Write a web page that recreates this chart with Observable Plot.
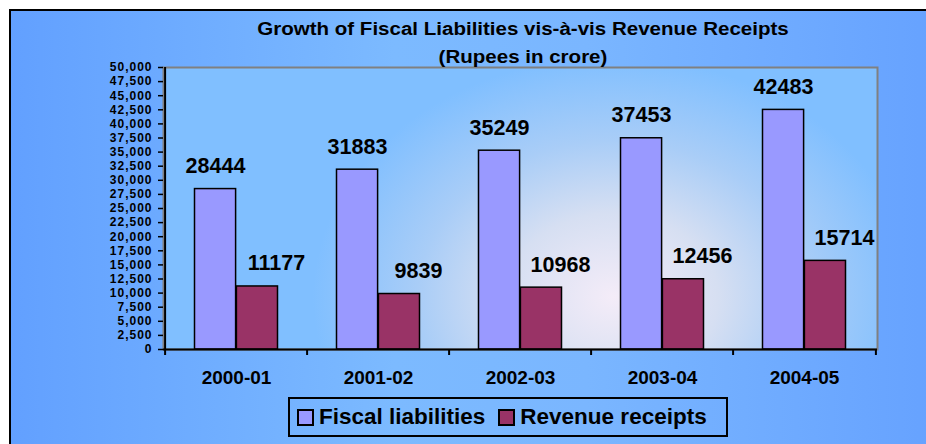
<!DOCTYPE html>
<html>
<head>
<meta charset="utf-8">
<script src="https://cdn.jsdelivr.net/npm/d3@7"></script>
<script src="https://cdn.jsdelivr.net/npm/@observablehq/plot@0.6"></script>
<style>
  html, body { margin: 0; padding: 0; background: #ffffff; }
  #wrap { position: relative; width: 926px; height: 444px; overflow: hidden; background: #ffffff;
          font-family: "Liberation Sans", Arial, sans-serif; }
  #bg { position: absolute; left: 9px; top: 9px; width: 960px; height: 480px; border: 2px solid #000;
        background: linear-gradient(90deg, #62a0ff 0%, #7cbaff 40%, #7ab6ff 60%, #64a0ff 100%); }
  #plotbg { position: absolute; left: 163px; top: 67px; width: 714px; height: 282px;
        background: radial-gradient(ellipse 300px 240px at 450px 230px, #f4ecf8 0%, #d6dff2 35%, #a9cdf7 65%, #80bfff 100%); }
  #chart { position: absolute; left: 0; top: 0; }
  .title { position: absolute; left: 0; width: 1046px; text-align: center; font-weight: bold; color: #000;
           font-size: 18px; transform: scaleX(1.14); transform-origin: 523px 0; }
  #legend { position: absolute; left: 288px; top: 397px; width: 436px; height: 36px; border: 2px solid #000;
        display: flex; align-items: center; font-weight: bold; font-size: 22.5px; }
  .item { display: flex; align-items: center; margin-left: 7px; margin-right: 6px; }
  .sw { width: 13px; height: 13px; border: 2px solid #000; margin-right: 5px; }
  #chart svg { overflow: visible; }
  #chart g[aria-label="y-axis tick label"] text { letter-spacing: 1px; }
</style>
</head>
<body>
<div id="wrap">
  <div id="bg"></div>
  <div id="plotbg"></div>
  <div id="chart"></div>
  <div class="title" style="top:19px;">Growth of Fiscal Liabilities vis-à-vis Revenue Receipts</div>
  <div class="title" style="top:47px;">(Rupees in crore)</div>
  <div id="legend"></div>
</div>
<script>
const years = ["2000-01", "2001-02", "2002-03", "2003-04", "2004-05"];
const seriesNames = ["Fiscal liabilities", "Revenue receipts"];
const fiscalLiabilities = [28444, 31883, 35249, 37453, 42483];
const revenueReceipts = [11177, 9839, 10968, 12456, 15714];
const yTicks = [0, 2500, 5000, 7500, 10000, 12500, 15000, 17500, 20000, 22500, 25000,
                27500, 30000, 32500, 35000, 37500, 40000, 42500, 45000, 47500, 50000];
const seriesColors = ["#9999ff", "#993366"];

const data = [];
years.forEach((y, i) => {
  data.push({year: y, series: seriesNames[0], value: fiscalLiabilities[i]});
  data.push({year: y, series: seriesNames[1], value: revenueReceipts[i]});
});
const fiscal = data.filter(d => d.series === seriesNames[0]);
const revenue = data.filter(d => d.series === seriesNames[1]);

const W = 926, H = 444, mL = 163, mR = 49, mT = 67, mB = 95;
const bw = (W - mL - mR) / years.length;
const plotH = H - mT - mB;
const inOuter = 29.5, inInner = bw / 2;

const plot = Plot.plot({
  width: W, height: H,
  marginLeft: mL, marginRight: mR, marginTop: mT, marginBottom: mB,
  style: {background: "transparent", fontFamily: "'Liberation Sans', Arial, sans-serif", color: "#000"},
  x: {domain: years, padding: 0, axis: null, label: null},
  y: {domain: [0, 50000], axis: null, label: null},
  color: {domain: seriesNames, range: seriesColors},
  marks: [
    Plot.frame({stroke: "#808080", strokeWidth: 2}),
    Plot.barY(fiscal, {x: "year", y: "value", fill: "series", stroke: "#000", strokeWidth: 1.5,
      insetLeft: inOuter, insetRight: inInner}),
    Plot.barY(revenue, {x: "year", y: "value", fill: "series", stroke: "#000", strokeWidth: 1.5,
      insetLeft: inInner, insetRight: inOuter}),
    Plot.text(fiscal, {x: "year", y: "value", text: d => String(d.value), dx: -21, dy: -23,
      fontSize: 21.5, fontWeight: "bold", fill: "#000"}),
    Plot.text(revenue, {x: "year", y: "value", text: d => String(d.value), dx: 40, dy: -23,
      fontSize: 21.5, fontWeight: "bold", fill: "#000"}),
    Plot.axisY({ticks: yTicks, tickFormat: d3.format(","), tickSize: 5, tickPadding: 6, label: null,
      fontSize: 12, fontWeight: "bold", stroke: "#000", strokeWidth: 1.5}),
    Plot.axisX({tickSize: 0, tickPadding: 21, fontSize: 19, fontWeight: "bold", label: null}),
    Plot.ruleX(years, {x: d => d, dx: -bw / 2, insetTop: plotH, insetBottom: -6, stroke: "#000", strokeWidth: 2}),
    Plot.ruleX([years[years.length - 1]], {x: d => d, dx: bw / 2, insetTop: plotH, insetBottom: -6, stroke: "#000", strokeWidth: 2}),
    Plot.ruleX([years[0]], {x: d => d, dx: -bw / 2, stroke: "#000", strokeWidth: 2}),
    Plot.ruleY([0], {stroke: "#000", strokeWidth: 2})
  ]
});
document.getElementById("chart").appendChild(plot);

const legend = document.getElementById("legend");
seriesNames.forEach((name, i) => {
  const item = document.createElement("div");
  item.className = "item";
  const sw = document.createElement("div");
  sw.className = "sw";
  sw.style.background = plot.scale("color").apply(name);
  const label = document.createElement("span");
  label.textContent = name;
  item.appendChild(sw);
  item.appendChild(label);
  legend.appendChild(item);
});
</script>
</body>
</html>
